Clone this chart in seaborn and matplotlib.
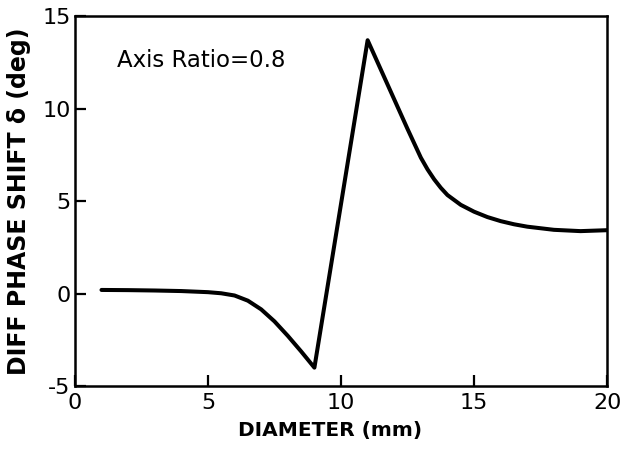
import matplotlib
matplotlib.use("Agg")
import matplotlib.pyplot as plt
import seaborn as sns
import pandas as pd

# Differential phase shift versus drop diameter (axis ratio 0.8)
diameter_mm = [1, 2, 3, 4, 5, 5.5, 6, 6.5, 7, 7.5, 8, 8.5, 9,
               11, 11.5, 12, 12.5, 13, 13.25, 13.5, 13.75, 14, 14.5, 15,
               15.5, 16, 16.5, 17, 18, 19, 20]
phase_shift_deg = [0.2, 0.19, 0.17, 0.14, 0.08, 0.02, -0.1, -0.38, -0.85, -1.5,
                   -2.28, -3.12, -4.0,
                   13.7, 12.1, 10.5, 8.9, 7.35, 6.72, 6.18, 5.72, 5.33, 4.8,
                   4.43, 4.14, 3.92, 3.75, 3.62, 3.45, 3.38, 3.43]

x_ticks = [0, 5, 10, 15, 20]
y_ticks = [-5, 0, 5, 10, 15]

df = pd.DataFrame({"diameter": diameter_mm, "delta": phase_shift_deg})

sns.set_theme(style="ticks")
plt.rcParams["font.family"] = ["DejaVu Sans"]
plt.rcParams["text.color"] = "black"
plt.rcParams["axes.labelcolor"] = "black"
plt.rcParams["xtick.color"] = "black"
plt.rcParams["ytick.color"] = "black"

fig = plt.figure(figsize=(6.24, 4.49), dpi=100)
ax = fig.add_axes([0.120, 0.140, 0.853, 0.824])

sns.lineplot(data=df, x="diameter", y="delta", ax=ax, color="black",
             linewidth=2.9, sort=False, estimator=None)

ax.set_xlim(0, 20)
ax.set_ylim(-5, 15)
ax.set_xticks(x_ticks)
ax.set_yticks(y_ticks)
ax.set_xticklabels([str(t) for t in x_ticks])
ax.set_yticklabels([str(t) for t in y_ticks])

for side in ["left", "right", "top", "bottom"]:
    ax.spines[side].set_visible(True)
    ax.spines[side].set_linewidth(1.8)
    ax.spines[side].set_color("black")

ax.tick_params(axis="both", direction="in", length=8, width=1.6,
               labelsize=16, colors="black")
ax.tick_params(axis="x", pad=5)
ax.tick_params(axis="y", pad=3)

ax.set_xlabel("DIAMETER (mm)", fontsize=14.5, fontweight="bold")
ax.set_ylabel("DIFF PHASE SHIFT δ (deg)", fontsize=17, fontweight="bold")
ax.xaxis.set_label_coords(0.48, -0.12)
ax.yaxis.set_label_coords(-0.105, 0.50)
ax.xaxis.label.set_va("center")
ax.yaxis.label.set_va("center")

ax.text(1.6, 12.6, "Axis Ratio=0.8", fontsize=16.5, ha="left", va="center")

fig.savefig("out.png", dpi=100)
